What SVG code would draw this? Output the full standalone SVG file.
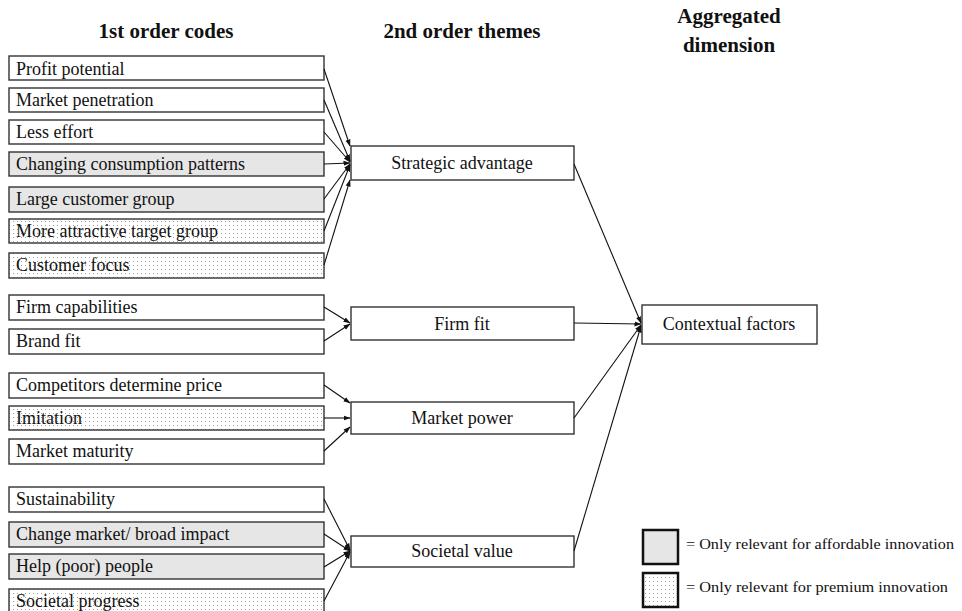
<svg xmlns="http://www.w3.org/2000/svg" width="962" height="611" viewBox="0 0 962 611">
<style>
.box{stroke:#333;stroke-width:1.4}
.w{fill:#fff}
.g{fill:#e6e6e6}
.d{fill:url(#dots)}
.t{font-family:"Liberation Serif","Times New Roman",serif;font-size:18px;fill:#111}
.h{font-family:"Liberation Serif","Times New Roman",serif;font-size:21px;font-weight:bold;fill:#111;text-anchor:middle}
.c{text-anchor:middle}
.lg{font-family:"Liberation Serif","Times New Roman",serif;font-size:15px;fill:#111}
.conn line{stroke:#111;stroke-width:1.1;marker-end:url(#ah)}
</style>
<defs>
<pattern id="dots" width="4" height="4" patternUnits="userSpaceOnUse">
<rect width="4" height="4" fill="#fff"/>
<rect x="1" y="1" width="1" height="1" fill="#a0a0a0"/>
</pattern>
<marker id="ah" markerWidth="7" markerHeight="6" refX="6.5" refY="3" orient="auto" markerUnits="userSpaceOnUse">
<path d="M0,0.5 L7,3 L0,5.5 Z" fill="#111"/>
</marker>
</defs>
<rect width="962" height="611" fill="#fff"/>
<g id="headers">
<text class="h" x="166" y="38">1st order codes</text>
<text class="h" x="462" y="38">2nd order themes</text>
<text class="h" x="729" y="23">Aggregated</text>
<text class="h" x="729" y="52">dimension</text>
</g>
<g id="n-profit"><rect class="box w" x="9" y="56" width="315" height="24"/><text class="t" x="16" y="75">Profit potential</text></g>
<g id="n-penetration"><rect class="box w" x="9" y="88" width="315" height="24"/><text class="t" x="16" y="106">Market penetration</text></g>
<g id="n-effort"><rect class="box w" x="9" y="120" width="315" height="24"/><text class="t" x="16" y="138">Less effort</text></g>
<g id="n-consumption"><rect class="box g" x="9" y="152" width="315" height="24"/><text class="t" x="16" y="170">Changing consumption patterns</text></g>
<g id="n-large"><rect class="box g" x="9" y="187" width="315" height="25"/><text class="t" x="16" y="205">Large customer group</text></g>
<g id="n-attractive"><rect class="box d" x="9" y="219" width="315" height="24"/><text class="t" x="16" y="237">More attractive target group</text></g>
<g id="n-focus"><rect class="box d" x="9" y="253" width="315" height="25"/><text class="t" x="16" y="271">Customer focus</text></g>
<g id="n-capabilities"><rect class="box w" x="9" y="295" width="315" height="25"/><text class="t" x="16" y="313">Firm capabilities</text></g>
<g id="n-brand"><rect class="box w" x="9" y="329" width="315" height="25"/><text class="t" x="16" y="347">Brand fit</text></g>
<g id="n-competitors"><rect class="box w" x="9" y="373" width="315" height="25"/><text class="t" x="16" y="391">Competitors determine price</text></g>
<g id="n-imitation"><rect class="box d" x="9" y="406" width="315" height="24"/><text class="t" x="16" y="424">Imitation</text></g>
<g id="n-maturity"><rect class="box w" x="9" y="439" width="315" height="25"/><text class="t" x="16" y="457">Market maturity</text></g>
<g id="n-sustainability"><rect class="box w" x="9" y="487" width="315" height="25"/><text class="t" x="16" y="505">Sustainability</text></g>
<g id="n-change"><rect class="box g" x="9" y="522" width="315" height="25"/><text class="t" x="16" y="540">Change market/ broad impact</text></g>
<g id="n-help"><rect class="box g" x="9" y="554" width="315" height="25"/><text class="t" x="16" y="572">Help (poor) people</text></g>
<g id="n-progress"><rect class="box d" x="9" y="589" width="315" height="25"/><text class="t" x="16" y="607">Societal progress</text></g>
<g id="n-strategic"><rect class="box w" x="351" y="146" width="223" height="34"/><text class="t c" x="462" y="169">Strategic advantage</text></g>
<g id="n-firmfit"><rect class="box w" x="351" y="307" width="223" height="33"/><text class="t c" x="462" y="330">Firm fit</text></g>
<g id="n-marketpower"><rect class="box w" x="351" y="402" width="223" height="32"/><text class="t c" x="462" y="424">Market power</text></g>
<g id="n-societal"><rect class="box w" x="351" y="536" width="223" height="31"/><text class="t c" x="462" y="557">Societal value</text></g>
<g id="n-contextual"><rect class="box w" x="642" y="305" width="175" height="39"/><text class="t c" x="729" y="330">Contextual factors</text></g>
<g id="legend">
<rect x="643" y="530" width="35" height="34" fill="#e6e6e6" stroke="#111" stroke-width="2.5"/>
<rect x="643" y="573" width="35" height="34" fill="url(#dots)" stroke="#111" stroke-width="2.5"/>
<text class="lg" x="686" y="549" textLength="268" lengthAdjust="spacingAndGlyphs">= Only relevant for affordable innovation</text>
<text class="lg" x="686" y="592" textLength="262" lengthAdjust="spacingAndGlyphs">= Only relevant for premium  innovation</text>
</g>
<g id="connectors" class="conn">
<line x1="324" y1="69" x2="350" y2="146"/>
<line x1="324" y1="100" x2="350" y2="161"/>
<line x1="324" y1="132" x2="350" y2="162"/>
<line x1="324" y1="164" x2="350" y2="163"/>
<line x1="324" y1="199" x2="350" y2="164"/>
<line x1="324" y1="231" x2="350" y2="165"/>
<line x1="324" y1="265" x2="350" y2="180"/>
<line x1="324" y1="307" x2="350" y2="323"/>
<line x1="324" y1="341" x2="350" y2="324"/>
<line x1="324" y1="385" x2="350" y2="403"/>
<line x1="324" y1="418" x2="350" y2="418"/>
<line x1="324" y1="451" x2="350" y2="427"/>
<line x1="324" y1="499" x2="350" y2="550"/>
<line x1="324" y1="534" x2="350" y2="551"/>
<line x1="324" y1="567" x2="350" y2="551"/>
<line x1="324" y1="601" x2="350" y2="552"/>
<line x1="574" y1="164" x2="641" y2="323"/>
<line x1="574" y1="323" x2="641" y2="324"/>
<line x1="574" y1="418" x2="641" y2="325"/>
<line x1="574" y1="551" x2="641" y2="326"/>
</g>
</svg>
